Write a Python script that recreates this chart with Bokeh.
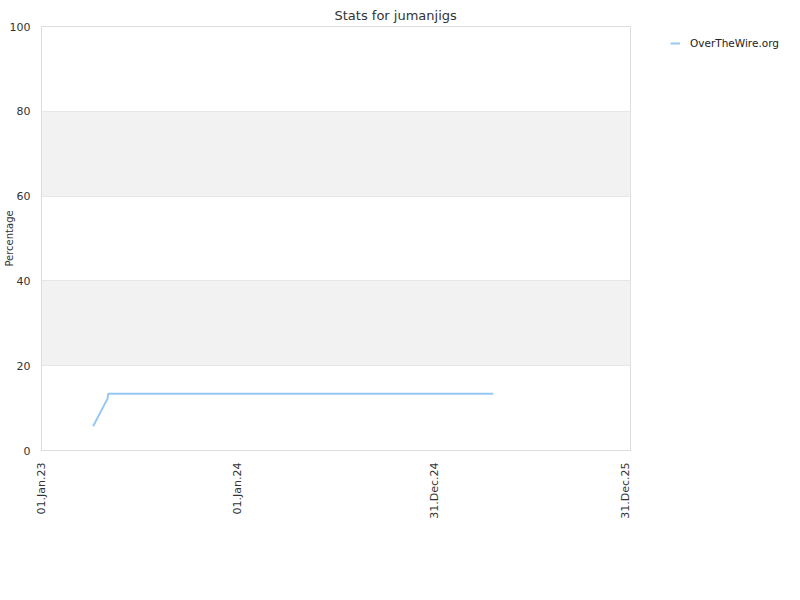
import math
from datetime import datetime

from bokeh.embed import file_html
from bokeh.layouts import row
from bokeh.models import (BoxAnnotation, DatetimeTickFormatter, FixedTicker,
                          Legend, LegendItem, Range1d, Title)
from bokeh.plotting import figure
from bokeh.resources import INLINE

# Progress series for the user
dates = ["2023-04-07", "2023-05-04", "2023-05-05", "2025-04-20"]
percent = [5.7, 12.3, 13.4, 13.4]
series_name = "OverTheWire.org"

# Axis ticks
x_tick_dates = ["2023-01-01", "2024-01-01", "2024-12-31", "2025-12-31"]
y_ticks = [0, 20, 40, 60, 80, 100]
shaded_bands = [(20, 40), (60, 80)]

FONT = "DejaVu Sans"
TEXT = "#333333"
GRID = "#e6e6e6"
LINE = "#95c8f5"


def ms(s):
    return datetime.strptime(s, "%Y-%m-%d").timestamp() * 1000.0


xs = [datetime.strptime(d, "%Y-%m-%d") for d in dates]
x_ticks = [ms(d) for d in x_tick_dates]

# ---- main chart -------------------------------------------------------
p = figure(
    width=631, height=600,
    x_axis_type="datetime",
    output_backend="svg", toolbar_location=None,
    min_border_left=40, min_border_right=1,
    min_border_top=26, min_border_bottom=150,
    x_range=Range1d(x_ticks[0], x_ticks[-1]),
    y_range=Range1d(0, 100),
)
p.title = None
p.add_layout(Title(text="Stats for jumanjigs", align="left", offset=293,
                   text_font=FONT, text_font_size="13px",
                   text_font_style="normal", text_color=TEXT,
                   standoff=8), "above")

p.background_fill_color = "white"
p.border_fill_color = "white"
p.outline_line_color = "#dddddd"
p.outline_line_width = 1

# alternating shaded bands
for lo, hi in shaded_bands:
    p.add_layout(BoxAnnotation(bottom=lo, top=hi, fill_color="#f2f2f2",
                               fill_alpha=1.0, line_alpha=0, level="image"))

# grid
p.xgrid.visible = False
p.ygrid.ticker = FixedTicker(ticks=y_ticks)
p.ygrid.grid_line_color = GRID
p.ygrid.grid_line_width = 1

# y axis
p.yaxis.ticker = FixedTicker(ticks=y_ticks)
p.yaxis.axis_label = "Percentage"
p.yaxis.axis_label_text_font = FONT
p.yaxis.axis_label_text_font_size = "10px"
p.yaxis.axis_label_text_font_style = "normal"
p.yaxis.axis_label_text_color = TEXT
p.yaxis.axis_label_standoff = -8
p.yaxis.major_label_text_font = FONT
p.yaxis.major_label_text_font_size = "11px"
p.yaxis.major_label_text_color = TEXT
p.yaxis.major_label_standoff = 11
p.yaxis.major_tick_line_color = None
p.yaxis.major_tick_out = 0
p.yaxis.major_tick_in = 0
p.yaxis.minor_tick_line_color = None
p.yaxis.minor_tick_out = 0
p.yaxis.minor_tick_in = 0
p.yaxis.axis_line_color = "#dddddd"

# x axis
p.xaxis.ticker = FixedTicker(ticks=x_ticks)
fmt = "%d.%b.%y"
p.xaxis.formatter = DatetimeTickFormatter(
    milliseconds=fmt, seconds=fmt, minsec=fmt, minutes=fmt, hourmin=fmt,
    hours=fmt, days=fmt, months=fmt, years=fmt)
p.xaxis.major_label_orientation = math.pi / 2
p.xaxis.major_label_text_font = FONT
p.xaxis.major_label_text_font_size = "11px"
p.xaxis.major_label_text_color = TEXT
p.xaxis.major_label_standoff = 12
p.xaxis.major_tick_line_color = None
p.xaxis.major_tick_out = 0
p.xaxis.major_tick_in = 0
p.xaxis.minor_tick_line_color = None
p.xaxis.axis_line_color = "#dddddd"

p.line(xs, percent, line_color=LINE, line_width=2)

# ---- legend strip on the right -----------------------------------------
lg = figure(
    width=169, height=600,
    output_backend="svg", toolbar_location=None,
    min_border_left=29, min_border_top=26,
    min_border_right=0, min_border_bottom=0,
    x_axis_location=None, y_axis_location=None,
    x_range=Range1d(0, 1), y_range=Range1d(0, 1),
)
lg.outline_line_color = None
lg.grid.visible = False
lg.background_fill_color = "white"
lg.border_fill_color = "white"
# a single-point line never strokes; it only supplies the legend key
key = lg.line(x=[ms(dates[0])], y=percent[:1], line_color=LINE, line_width=2)

legend = Legend(
    items=[LegendItem(label=series_name, renderers=[key])],
    location="top_left",
    glyph_width=10, glyph_height=14,
    label_standoff=10,
    padding=10, margin=0,
    border_line_alpha=0, background_fill_alpha=0,
    label_text_font=FONT, label_text_font_size="10.5px",
    label_text_color="#222222",
)
lg.add_layout(legend, "center")

layout = row(p, lg, spacing=0)

open("out.html", "w").write(file_html(layout, INLINE))
